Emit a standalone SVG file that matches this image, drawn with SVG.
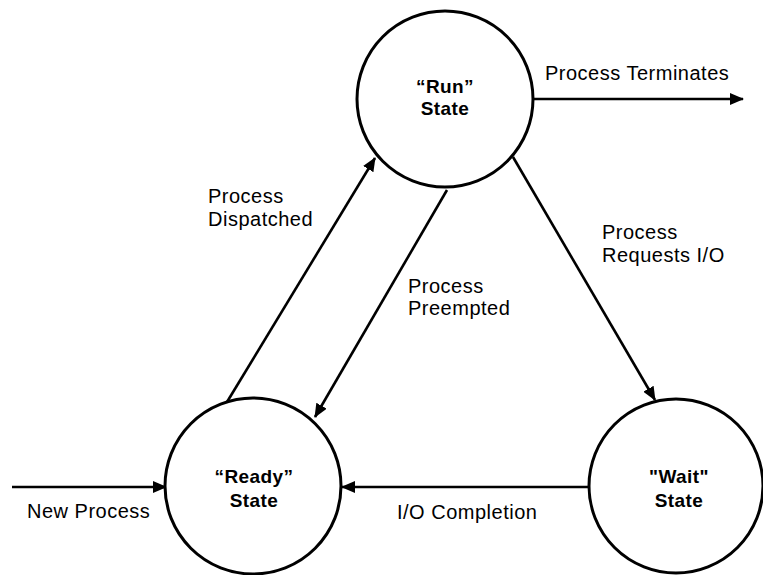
<svg xmlns="http://www.w3.org/2000/svg" width="763" height="575" viewBox="0 0 763 575">
<style>
.state{fill:#fff;stroke:#000;stroke-width:3}
.lbl{font-family:"Liberation Sans",Arial,sans-serif;font-size:20px;letter-spacing:0.5px;fill:#000}
.name{font-family:"Liberation Sans",Arial,sans-serif;font-size:19px;font-weight:bold;letter-spacing:0.4px;fill:#000;text-anchor:middle}
.edge{fill:none;stroke:#000;stroke-width:2.6;marker-end:url(#ah)}
</style>
<defs>
<marker id="ah" markerUnits="userSpaceOnUse" markerWidth="14" markerHeight="12" refX="13" refY="6" orient="auto">
<path d="M0,0 L14,6 L0,12 Z" fill="#000"/>
</marker>
</defs>
<rect width="763" height="575" fill="#fff"/>
<g id="connectors">
<line class="edge" x1="533" y1="99" x2="743" y2="99"/>
<line class="edge" x1="227" y1="402" x2="375" y2="158"/>
<line class="edge" x1="447" y1="190" x2="315" y2="417"/>
<line class="edge" x1="513" y1="157" x2="655" y2="400"/>
<line class="edge" x1="12" y1="487" x2="166" y2="487"/>
<line class="edge" x1="590" y1="487" x2="342" y2="487"/>
<text class="lbl" x="545" y="80">Process Terminates</text>
<text class="lbl" x="208" y="203">Process</text>
<text class="lbl" x="208" y="226">Dispatched</text>
<text class="lbl" x="408" y="293">Process</text>
<text class="lbl" x="408" y="315">Preempted</text>
<text class="lbl" x="602" y="239">Process</text>
<text class="lbl" x="602" y="262">Requests I/O</text>
<text class="lbl" x="27" y="518">New Process</text>
<text class="lbl" x="397" y="519">I/O Completion</text>
</g>
<g id="run">
<circle class="state" cx="445" cy="99" r="88"/>
<text class="name" x="445" y="93">“Run”</text>
<text class="name" x="445" y="115">State</text>
</g>
<g id="ready">
<circle class="state" cx="253" cy="486" r="88"/>
<text class="name" x="254" y="483">“Ready”</text>
<text class="name" x="254" y="507">State</text>
</g>
<g id="wait">
<circle class="state" cx="676" cy="486" r="87"/>
<text class="name" x="679" y="483">"Wait"</text>
<text class="name" x="679" y="507">State</text>
</g>
</svg>
